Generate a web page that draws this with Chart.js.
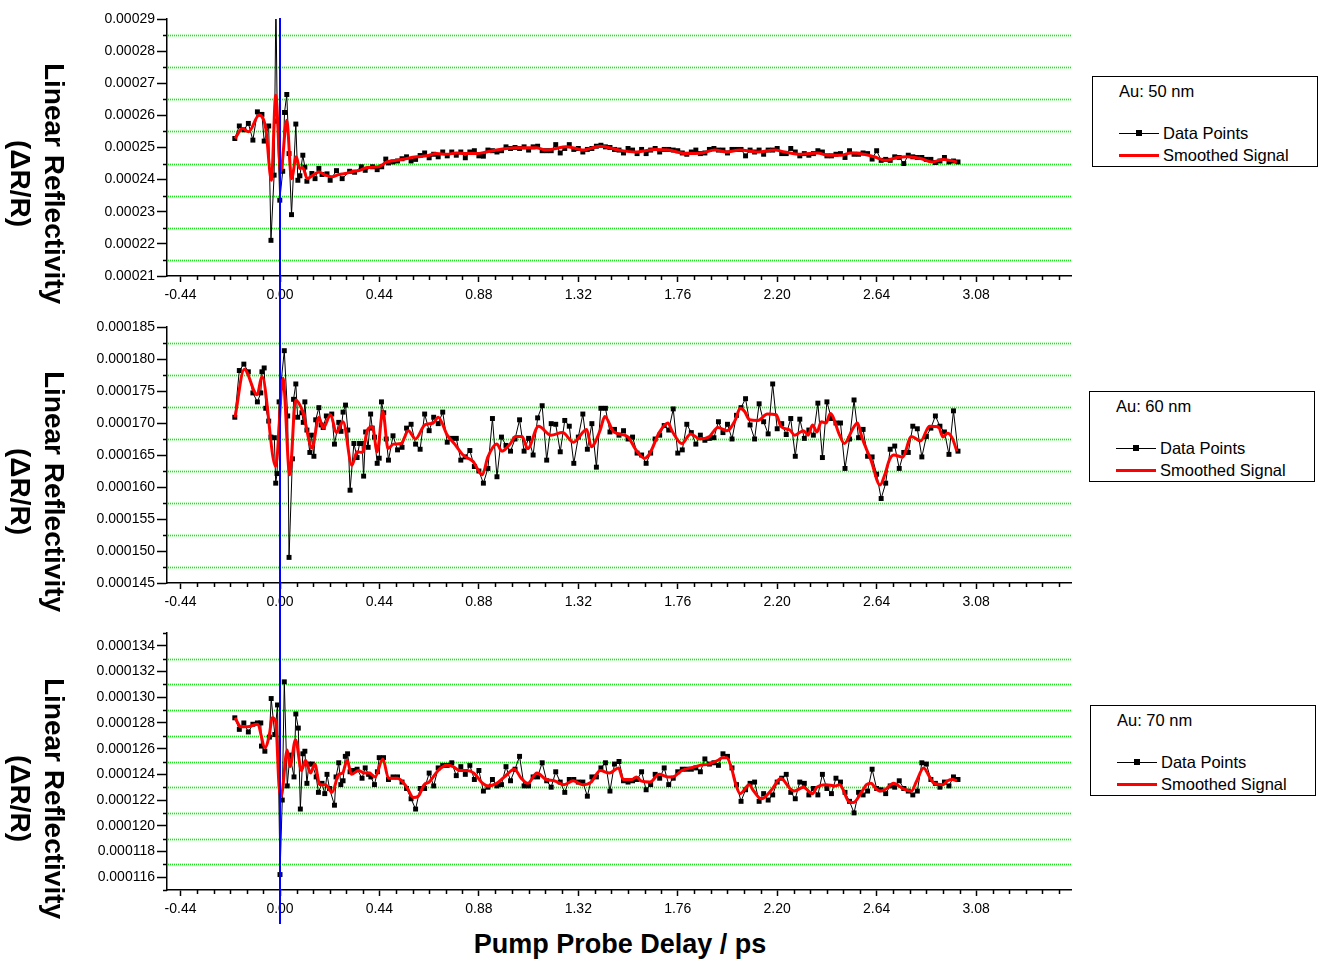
<!DOCTYPE html>
<html>
<head>
<meta charset="utf-8">
<script src="https://cdn.jsdelivr.net/npm/chart.js@4.4.1/dist/chart.umd.min.js"></script>
<style>
  body { margin: 0; background: #fff; }
  #page { position: relative; width: 1327px; height: 961px; overflow: hidden; font-family: "Liberation Sans", Arial, sans-serif; color: #000; }
  canvas { position: absolute; left: 0; }
  .ytitle { position: absolute; width: 300px; height: 67px; line-height: 33.5px; text-align: center; font-weight: bold; font-size: 28px; transform: rotate(90deg); white-space: nowrap; }
  .xtitle { position: absolute; left: 420px; width: 400px; top: 928px; text-align: center; font-weight: bold; font-size: 27px; line-height: 32px; }
  .legend { position: absolute; width: 226px; height: 91px; border: 1px solid #000; box-sizing: border-box; font-size: 16.5px; }
  .legend .txt { position: absolute; line-height: 18px; white-space: nowrap; }
  .legend .ln { position: absolute; left: 26px; width: 40px; }
  .legend .sq { position: absolute; left: 43px; width: 6px; height: 6px; background: #000; }
</style>
</head>
<body>
<div id="page">
  <canvas id="c50" width="1075" height="310" style="top:0"></canvas>
  <canvas id="c60" width="1075" height="307" style="top:310px"></canvas>
  <canvas id="c70" width="1075" height="307" style="top:617px"></canvas>
  <div class="xtitle">Pump Probe Delay / ps</div>
</div>
<script>
// tick labels
const xLabels = ['-0.44', '0.00', '0.44', '0.88', '1.32', '1.76', '2.20', '2.64', '3.08'];
const yLabels50 = ['0.00021', '0.00022', '0.00023', '0.00024', '0.00025', '0.00026', '0.00027', '0.00028', '0.00029'];
const yLabels60 = ['0.000145', '0.000150', '0.000155', '0.000160', '0.000165', '0.000170', '0.000175', '0.000180', '0.000185'];
const yLabels70 = ['0.000116', '0.000118', '0.000120', '0.000122', '0.000124', '0.000126', '0.000128', '0.000130', '0.000132', '0.000134'];

const panelNames = ['Au: 50 nm', 'Au: 60 nm', 'Au: 70 nm'];
const seriesNames = ['Data Points', 'Smoothed Signal'];

// pump probe delay (ps); dense sampling around zero differs per film
const delay50 = [-0.20, -0.18, -0.16, -0.14, -0.12, -0.10, -0.08, -0.07, -0.05, -0.04, -0.026, -0.018, -0.012, -0.001, 0.012, 0.020, 0.030, 0.040, 0.051, 0.070,
  0.079, 0.088, 0.101, 0.110, 0.119, 0.141, 0.155, 0.172, 0.186, 0.208, 0.222, 0.250, 0.275, 0.308, 0.33, 0.36, 0.377, 0.41, 0.43, 0.45, 0.468];
const delay60 = [-0.20, -0.18, -0.16, -0.14, -0.12, -0.10, -0.085, -0.08, -0.07, -0.063, -0.05, -0.04, -0.025, -0.019, -0.013, -0.004, 0.019, 0.034, 0.040, 0.055,
  0.060, 0.070, 0.078, 0.097, 0.103, 0.110, 0.119, 0.132, 0.139, 0.150, 0.158, 0.172, 0.182, 0.191, 0.205, 0.229, 0.241, 0.260, 0.270, 0.279,
  0.290, 0.300, 0.310, 0.327, 0.341, 0.352, 0.363, 0.370, 0.379, 0.390, 0.401, 0.408, 0.418, 0.430, 0.439, 0.449, 0.459, 0.470];
const delay70 = [-0.20, -0.18, -0.16, -0.14, -0.12, -0.10, -0.085, -0.082, -0.067, -0.047, -0.039, -0.023, -0.011, 0.0, 0.010, 0.019, 0.032, 0.044, 0.062, 0.070,
  0.081, 0.090, 0.101, 0.110, 0.119, 0.128, 0.143, 0.160, 0.170, 0.186, 0.198, 0.208, 0.219, 0.241, 0.248, 0.260, 0.269, 0.279, 0.289, 0.299,
  0.310, 0.321, 0.341, 0.363, 0.377, 0.392, 0.402, 0.418, 0.431, 0.439, 0.458];
const delayLate = [0.48, 0.50, 0.52, 0.54, 0.56, 0.58, 0.60, 0.62, 0.64, 0.66,
  0.68, 0.70, 0.72, 0.74, 0.76, 0.78, 0.80, 0.82, 0.84, 0.86,
  0.88, 0.90, 0.92, 0.94, 0.96, 0.98, 1.00, 1.02, 1.04, 1.06,
  1.08, 1.10, 1.12, 1.14, 1.16, 1.18, 1.20, 1.22, 1.24, 1.26,
  1.28, 1.30, 1.32, 1.34, 1.36, 1.38, 1.40, 1.42, 1.44, 1.46,
  1.48, 1.50, 1.52, 1.54, 1.56, 1.58, 1.60, 1.62, 1.64, 1.66,
  1.68, 1.70, 1.72, 1.74, 1.76, 1.78, 1.80, 1.82, 1.84, 1.86,
  1.88, 1.90, 1.92, 1.94, 1.96, 1.98, 2.00, 2.02, 2.04, 2.06,
  2.08, 2.10, 2.12, 2.14, 2.16, 2.18, 2.20, 2.22, 2.24, 2.26,
  2.28, 2.30, 2.32, 2.34, 2.36, 2.38, 2.40, 2.42, 2.44, 2.46,
  2.48, 2.50, 2.52, 2.54, 2.56, 2.58, 2.60, 2.62, 2.64, 2.66,
  2.68, 2.70, 2.72, 2.74, 2.76, 2.78, 2.80, 2.82, 2.84, 2.86,
  2.88, 2.90, 2.92, 2.94, 2.96, 2.98, 3.00];

// dR/R in units of 1e-6, early part (matches delayXX) then late part (matches delayLate)
const dr50 = [252.8, 256.7, 255.5, 257.5, 252.3, 261.1, 260.3, 252.0, 256.7, 221.1, 241.4, 296, 258.2, 233.6, 242.6, 260.9, 266.5, 248.1, 229.1, 257.3,
  239.8, 241.2, 247.6, 243.9, 239.5, 241.9, 240.3, 243.5, 241.6, 241.8, 239.8, 242.8, 240.3, 242.6, 242.3, 244.0, 242.9, 244.0, 243.1, 244.0, 246.4];
const drLate50 = [245.2, 245.5, 245.8, 246.5, 247.1, 245.8, 246.3, 247.5, 248.3, 246.8,
  247.9, 247.1, 248.6, 247.4, 248.6, 247.6, 248.6, 246.8, 248.6, 249.0,
  247.4, 247.3, 249.2, 249.0, 248.6, 249.0, 250.2, 249.7, 250.0, 249.7,
  250.2, 249.2, 250.2, 250.4, 249.0, 249.0, 249.0, 250.9, 248.3, 249.7,
  250.9, 249.4, 249.7, 248.6, 249.4, 249.7, 250.4, 250.7, 250.2, 250.0,
  249.4, 249.2, 248.3, 249.7, 249.2, 248.1, 249.4, 248.1, 249.2, 249.7,
  248.6, 249.4, 249.4, 249.2, 249.0, 248.3, 247.9, 248.6, 249.2, 248.1,
  248.3, 249.4, 249.7, 249.2, 249.2, 248.3, 249.4, 249.4, 249.4, 247.4,
  249.2, 248.6, 249.2, 247.9, 249.2, 249.2, 249.7, 248.1, 248.1, 249.7,
  248.6, 247.4, 248.1, 247.6, 248.1, 249.0, 248.6, 247.4, 247.4, 247.9,
  248.1, 246.9, 249.0, 247.9, 247.9, 248.3, 248.1, 246.4, 249.0, 246.0,
  246.3, 246.0, 247.1, 246.9, 245.0, 247.6, 247.1, 246.9, 246.9, 246.3,
  246.3, 245.3, 245.8, 246.9, 245.5, 245.8, 245.5];

const dr60 = [170.9, 178.2, 179.2, 178.0, 174.7, 173.3, 174.7, 178.0, 178.6, 172.3, 170.3, 167.8, 167.7, 160.6, 162.1, 173.3, 181.3, 171.1, 149.0, 164.4,
  173.7, 176.1, 170.9, 171.6, 170.1, 173.3, 168.9, 165.4, 168.1, 164.8, 170.5, 172.4, 169.7, 169.3, 171.1, 171.4, 166.7, 170.1, 168.7, 171.7,
  172.8, 168.9, 159.5, 166.8, 164.6, 166.8, 166.8, 161.7, 168.6, 166.2, 171.4, 169.2, 167.8, 163.7, 164.5, 173.3, 171.6, 167.5];
const drLate60 = [164.2, 168.0, 165.8, 166.2, 169.2, 169.8, 166.7, 165.9, 171.4, 168.8,
  170.9, 169.9, 171.7, 167.0, 167.6, 167.6, 164.2, 164.7, 165.7, 163.2,
  162.5, 160.6, 162.9, 170.7, 161.6, 167.8, 166.5, 165.6, 167.5, 170.5,
  165.6, 167.6, 165.0, 170.8, 172.7, 164.2, 169.9, 169.8, 165.5, 170.4,
  169.5, 163.7, 167.8, 171.4, 165.9, 169.9, 163.1, 172.3, 172.3, 168.6,
  169.0, 168.1, 168.8, 167.5, 167.8, 165.3, 165.0, 163.7, 165.3, 167.5,
  168.1, 169.6, 168.9, 172.2, 165.3, 165.8, 169.8, 168.5, 166.7, 168.1,
  167.3, 167.6, 167.7, 170.2, 168.5, 169.8, 167.5, 171.2, 172.4, 173.8,
  169.7, 167.5, 173.0, 170.2, 168.3, 176.1, 169.1, 169.9, 168.2, 170.7,
  164.8, 170.6, 167.6, 168.9, 168.1, 173.1, 164.6, 173.3, 170.7, 170.0,
  170.0, 162.9, 167.5, 173.6, 167.7, 169.0, 164.8, 164.7, 162.0, 158.2,
  160.6, 165.9, 166.4, 162.9, 165.4, 165.4, 169.5, 169.1, 164.7, 167.9,
  169.2, 171.1, 169.5, 168.6, 165.1, 171.9, 165.6];

const dr70 = [128.4, 127.5, 128.0, 127.3, 127.9, 128.0, 128.0, 126.2, 125.8, 126.9, 129.9, 127.1, 129.4, 116.2, 122.0, 131.2, 123.1, 125.5, 123.8, 128.7,
  127.6, 121.3, 125.6, 125.8, 123.3, 124.8, 124.8, 123.8, 122.6, 123.3, 122.5, 124.0, 122.9, 121.6, 123.8, 124.9, 123.2, 123.5, 125.4, 125.6,
  124.2, 124.3, 124.4, 123.7, 124.5, 124.0, 123.8, 123.2, 124.2, 125.3, 125.3];
const drLate70 = [123.6, 123.8, 123.8, 123.4, 122.9, 122.1, 121.3, 122.9, 122.9, 124.1,
  123.1, 124.5, 124.7, 124.7, 124.9, 123.9, 124.6, 124.0, 124.7, 123.6,
  124.3, 122.7, 123.0, 123.6, 123.1, 123.2, 124.6, 123.5, 124.4, 125.4,
  123.1, 123.1, 123.8, 123.8, 124.9, 123.5, 123.0, 124.2, 123.4, 122.6,
  123.6, 123.6, 123.4, 123.4, 122.3, 123.8, 123.8, 124.5, 124.9, 122.7,
  124.8, 125.0, 123.5, 123.4, 123.5, 123.6, 124.2, 122.8, 123.2, 124.0,
  123.7, 124.5, 123.2, 123.7, 124.2, 124.4, 124.4, 124.4, 124.5, 124.2,
  125.2, 124.8, 124.9, 124.7, 125.6, 125.4, 124.5, 123.2, 121.9, 122.8,
  123.3, 123.4, 121.9, 122.5, 122.0, 122.4, 123.4, 123.7, 124.0, 122.6,
  122.1, 123.4, 123.3, 122.4, 122.9, 122.4, 124.0, 122.9, 122.5, 123.7,
  123.4, 122.6, 121.9, 121.0, 122.6, 122.4, 122.7, 124.4, 122.9, 122.8,
  122.5, 123.1, 123.0, 123.5, 122.9, 122.7, 122.4, 122.7, 124.9, 124.8,
  123.6, 123.3, 123.0, 123.4, 123.1, 123.8, 123.6];

// smoothed signal, delay (ps) and dR/R (1e-6)
const smoothT50 = [-0.199, -0.166, -0.139, -0.092, -0.063, -0.038, -0.019, 0.003, 0.030, 0.051, 0.072, 0.087, 0.101, 0.120, 0.142, 0.172, 0.201, 0.230, 0.260, 0.289,
  0.326, 0.35, 0.385, 0.436, 0.473, 0.517, 0.561, 0.605, 0.649, 0.693, 0.737, 0.781, 0.825, 0.869, 0.913, 0.957, 1.001, 1.045, 1.089, 1.133,
  1.177, 1.221, 1.265, 1.309, 1.338, 1.418, 1.499, 1.572, 1.660, 1.719, 1.797, 1.866, 1.924, 1.976, 2.035, 2.115, 2.189, 2.233, 2.306, 2.379,
  2.423, 2.482, 2.526, 2.585, 2.629, 2.680, 2.731, 2.775, 2.834, 2.885, 2.937, 2.995];
const smoothV50 = [252.8, 255.9, 254.9, 260.1, 255.9, 239.8, 266.3, 242.4, 258.5, 240.3, 247.1, 243.5, 243.7, 240.3, 241.2, 242.4, 241.4, 240.9, 241.6, 241.9,
  242.6, 242.8, 243.8, 244.0, 245.5, 246.0, 246.6, 247.1, 247.4, 248.1, 247.9, 248.3, 248.1, 248.1, 248.6, 249.2, 249.7, 249.9, 249.9, 249.9,
  249.2, 249.7, 250.2, 249.7, 249.2, 250.4, 249.2, 248.6, 249.4, 249.2, 248.1, 248.3, 249.2, 248.6, 249.2, 248.6, 249.2, 248.6, 247.9, 248.3,
  247.6, 247.6, 248.3, 247.9, 247.1, 246.0, 246.9, 247.1, 246.6, 245.5, 246.3, 245.5];

const smoothT60 = [-0.199, -0.158, -0.101, -0.080, -0.019, 0.013, 0.043, 0.069, 0.101, 0.142, 0.172, 0.191, 0.224, 0.249, 0.279, 0.318, 0.341, 0.364, 0.387, 0.409,
  0.430, 0.455, 0.478, 0.502, 0.536, 0.568, 0.599, 0.641, 0.678, 0.700, 0.740, 0.773, 0.810, 0.854, 0.895, 0.920, 0.959, 0.982, 1.018, 1.042,
  1.071, 1.096, 1.144, 1.199, 1.250, 1.298, 1.357, 1.377, 1.417, 1.437, 1.477, 1.537, 1.577, 1.613, 1.637, 1.678, 1.716, 1.737, 1.778, 1.817,
  1.857, 1.897, 1.938, 1.977, 2.015, 2.036, 2.056, 2.077, 2.115, 2.156, 2.196, 2.216, 2.256, 2.277, 2.316, 2.337, 2.356, 2.376, 2.395, 2.416,
  2.435, 2.476, 2.497, 2.536, 2.555, 2.576, 2.615, 2.655, 2.676, 2.696, 2.715, 2.755, 2.794, 2.835, 2.874, 2.913, 2.934, 2.954, 2.975, 2.995];
const smoothV60 = [170.9, 178.4, 174.4, 177.3, 163.2, 177.0, 161.9, 173.6, 171.7, 166.1, 170.9, 169.2, 171.3, 168.5, 170.2, 163.4, 165.5, 165.4, 168.9, 169.4,
  165.5, 171.8, 166.0, 166.7, 166.8, 168.8, 167.5, 169.7, 170.0, 170.9, 168.1, 166.7, 165.0, 164.0, 161.9, 164.7, 166.7, 165.6, 166.7, 167.9,
  167.9, 166.0, 169.5, 168.1, 168.5, 167.0, 169.0, 166.3, 168.9, 171.0, 168.6, 167.9, 165.7, 164.5, 165.3, 168.5, 170.0, 168.6, 166.8, 168.3,
  167.5, 167.8, 169.3, 168.8, 170.5, 172.3, 171.8, 170.5, 170.4, 171.4, 171.3, 169.5, 168.9, 168.1, 168.8, 168.1, 169.7, 168.6, 170.2, 170.0,
  171.5, 168.1, 166.8, 169.2, 170.0, 167.6, 164.2, 160.3, 161.9, 164.2, 165.0, 164.7, 167.9, 167.2, 169.5, 169.4, 167.8, 168.4, 167.6, 165.6];

const smoothT70 = [-0.199, -0.173, -0.144, -0.100, -0.066, -0.048, -0.034, -0.019, -0.004, 0.005, 0.032, 0.044, 0.069, 0.095, 0.113, 0.135, 0.154, 0.176, 0.201, 0.230,
  0.260, 0.277, 0.297, 0.316, 0.348, 0.373, 0.395, 0.421, 0.455, 0.480, 0.520, 0.561, 0.590, 0.612, 0.638, 0.660, 0.700, 0.737, 0.766, 0.795,
  0.825, 0.858, 0.891, 0.920, 0.959, 0.993, 1.037, 1.067, 1.096, 1.137, 1.177, 1.213, 1.257, 1.297, 1.338, 1.377, 1.417, 1.457, 1.498, 1.518,
  1.558, 1.577, 1.597, 1.637, 1.678, 1.716, 1.737, 1.778, 1.817, 1.857, 1.897, 1.938, 1.957, 1.977, 1.996, 2.017, 2.036, 2.076, 2.096, 2.130,
  2.175, 2.216, 2.256, 2.275, 2.316, 2.356, 2.376, 2.416, 2.456, 2.476, 2.516, 2.536, 2.576, 2.595, 2.615, 2.636, 2.655, 2.676, 2.715, 2.755,
  2.794, 2.815, 2.848, 2.874, 2.894, 2.934, 2.954, 2.975, 2.995];
const smoothV70 = [128.4, 127.7, 127.7, 127.9, 126.1, 127.0, 128.4, 128.1, 123.0, 122.3, 125.9, 124.6, 126.7, 124.3, 125.1, 124.1, 124.8, 123.2, 123.2, 122.6,
  124.0, 124.1, 125.1, 124.0, 124.3, 124.1, 124.1, 123.8, 125.2, 123.7, 123.7, 123.0, 122.2, 122.3, 123.2, 123.4, 124.3, 124.7, 124.6, 124.3,
  124.3, 124.1, 123.4, 123.1, 123.3, 123.8, 124.4, 123.7, 123.3, 124.1, 123.6, 123.5, 123.2, 123.5, 123.2, 123.4, 124.3, 124.1, 124.5, 123.6,
  123.6, 123.8, 123.5, 123.4, 124.0, 123.8, 123.8, 124.3, 124.5, 124.7, 124.8, 125.1, 125.3, 125.3, 124.6, 123.2, 122.5, 123.2, 122.7, 122.1,
  122.8, 123.7, 122.9, 122.7, 123.0, 122.5, 123.0, 123.2, 123.1, 123.2, 121.9, 121.8, 122.7, 123.2, 123.3, 122.9, 122.7, 122.8, 123.3, 122.9,
  122.7, 123.4, 124.5, 123.8, 123.3, 123.2, 123.5, 123.6, 123.5];

Chart.defaults.font.family = '"Liberation Sans", Arial, sans-serif';
Chart.defaults.color = '#000';

function pts(xs, ys) {
  return xs.map((x, i) => ({ x: x, y: ys[i] }));
}

// major ticks carry a label, minor ones split each interval into `sub` parts
function makeTicks(labels, factor, sub, min, max) {
  const major = labels.map(l => Math.round(Number(l) * factor * 1e6) / 1e6);
  const step = (major[1] - major[0]) / sub;
  const kMin = Math.ceil((min - major[0]) / step - 1e-6);
  const kMax = Math.floor((max - major[0]) / step + 1e-6);
  const out = [];
  for (let k = kMin; k <= kMax; k++) {
    const big = k % sub === 0 && k >= 0 && k / sub < labels.length;
    out.push({ value: major[0] + k * step, big: big, txt: big ? labels[k / sub] : '' });
  }
  return out;
}

// green dotted lines on the unlabelled y ticks
const dottedGrid = {
  id: 'dottedGrid',
  beforeDatasetsDraw(chart) {
    const { ctx, chartArea: a, scales } = chart;
    const ys = scales.y;
    ctx.save();
    ys.ticks.forEach(t => {
      if (t.big || t.value <= ys.min + 1e-6 || t.value >= ys.max - 1e-6) return;
      const py = Math.round(ys.getPixelForValue(t.value));
      for (let px = Math.ceil(a.left) + 1; px < a.right; px += 2) {
        ctx.fillStyle = 'rgba(40, 225, 40, 0.35)';
        ctx.fillRect(px, py - 1, 1, 1);
        ctx.fillRect(px, py + 1, 1, 1);
        ctx.fillStyle = '#19e619';
        ctx.fillRect(px, py, 1, 1);
      }
    });
    ctx.restore();
  }
};

const minorTicks = {
  id: 'minorTicks',
  afterDraw(chart) {
    const { ctx, chartArea: a, scales } = chart;
    ctx.save();
    ctx.strokeStyle = '#000';
    ctx.lineWidth = 1.5;
    ctx.beginPath();
    scales.x.ticks.forEach(t => {
      if (t.big) return;
      const px = Math.round(scales.x.getPixelForValue(t.value)) + 0.5;
      ctx.moveTo(px, a.bottom);
      ctx.lineTo(px, a.bottom + 4);
    });
    scales.y.ticks.forEach(t => {
      if (t.big) return;
      const py = Math.round(scales.y.getPixelForValue(t.value)) + 0.5;
      ctx.moveTo(a.left - 4, py);
      ctx.lineTo(a.left, py);
    });
    ctx.stroke();
    ctx.restore();
  }
};

// blue marker at zero delay
const zeroLine = {
  id: 'zeroLine',
  afterDatasetsDraw(chart, args, opts) {
    const ctx = chart.ctx;
    const x = chart.scales.x.getPixelForValue(0);
    ctx.save();
    ctx.strokeStyle = '#0000ff';
    ctx.lineWidth = 2;
    ctx.beginPath();
    ctx.moveTo(x, opts.fromArea ? chart.chartArea.top - 1 : 0);
    ctx.lineTo(x, chart.height);
    ctx.stroke();
    ctx.restore();
  }
};

function makePanel(id, padTop, points, smooth, yLabels, yMin, yMax, ySub, fromArea) {
  const xTicks = makeTicks(xLabels, 1, 6, -0.5, 3.5);
  const yTicks = makeTicks(yLabels, 1e6, ySub, yMin, yMax);
  new Chart(document.getElementById(id), {
    type: 'line',
    data: {
      datasets: [
        { label: seriesNames[1], data: smooth, borderColor: '#ff0000', borderWidth: 3, pointRadius: 0,
          cubicInterpolationMode: 'monotone', order: 0 },
        { label: seriesNames[0], data: points, borderColor: '#000', borderWidth: 1, tension: 0,
          pointStyle: 'rect', pointRadius: 3.5, pointBackgroundColor: '#000', pointBorderWidth: 0, order: 1 }
      ]
    },
    options: {
      responsive: false,
      animation: false,
      devicePixelRatio: 1,
      layout: { padding: { top: padTop, right: 2, left: 0, bottom: 0 } },
      plugins: { legend: { display: false }, tooltip: { enabled: false }, zeroLine: { fromArea: fromArea } },
      scales: {
        x: {
          type: 'linear', min: -0.5, max: 3.5,
          afterBuildTicks: s => { s.ticks = xTicks.map(t => Object.assign({}, t)); },
          afterFit: s => { s.height = 34; },
          ticks: { autoSkip: false, maxRotation: 0, padding: 5, font: { size: 14 }, color: '#000',
            callback: (v, i, ts) => ts[i].txt },
          grid: { drawOnChartArea: false, tickLength: 6, tickColor: '#000',
            tickWidth: c => (c.tick && c.tick.big ? 1.5 : 0) },
          border: { color: '#000', width: 1.5 }
        },
        y: {
          type: 'linear', min: yMin, max: yMax,
          afterBuildTicks: s => { s.ticks = yTicks.map(t => Object.assign({}, t)); },
          afterFit: s => { s.width = 167; },
          ticks: { autoSkip: false, padding: 2, font: { size: 14 }, color: '#000',
            callback: (v, i, ts) => ts[i].txt },
          grid: { drawOnChartArea: false, tickLength: 10, tickColor: '#000',
            tickWidth: c => (c.tick && c.tick.big ? 1.5 : 0) },
          border: { color: '#000', width: 1.5 }
        }
      }
    },
    plugins: [dottedGrid, minorTicks, zeroLine]
  });
}

makePanel('c50', 19, pts(delay50.concat(delayLate), dr50.concat(drLate50)), pts(smoothT50, smoothV50), yLabels50, 210, 290, 2, true);
makePanel('c60', 17, pts(delay60.concat(delayLate), dr60.concat(drLate60)), pts(smoothT60, smoothV60), yLabels60, 145, 185, 2, false);
makePanel('c70', 16, pts(delay70.concat(delayLate), dr70.concat(drLate70)), pts(smoothT70, smoothV70), yLabels70, 115, 135, 2, false);

// axis titles and legends as page text
const page = document.getElementById('page');
const titleCentres = [183, 491, 798];
const legendBoxes = [[1092, 76], [1089, 391], [1090, 705]];
titleCentres.forEach(cy => {
  const d = document.createElement('div');
  d.className = 'ytitle';
  d.style.left = (37 - 150) + 'px';
  d.style.top = (cy - 33.5) + 'px';
  d.innerHTML = 'Linear Reflectivity<br>(ΔR/R)';
  page.appendChild(d);
});
legendBoxes.forEach((b, i) => {
  const box = document.createElement('div');
  box.className = 'legend';
  box.style.left = b[0] + 'px';
  box.style.top = b[1] + 'px';
  box.innerHTML =
    '<div class="txt" style="left:26px;top:5px">' + panelNames[i] + '</div>' +
    '<div class="ln" style="top:56px;height:1px;background:#000"></div>' +
    '<div class="sq" style="top:53px"></div>' +
    '<div class="txt" style="left:70px;top:47px">' + seriesNames[0] + '</div>' +
    '<div class="ln" style="top:77px;height:3px;background:#ff0000"></div>' +
    '<div class="txt" style="left:70px;top:69px">' + seriesNames[1] + '</div>';
  page.appendChild(box);
});
</script>
</body>
</html>
